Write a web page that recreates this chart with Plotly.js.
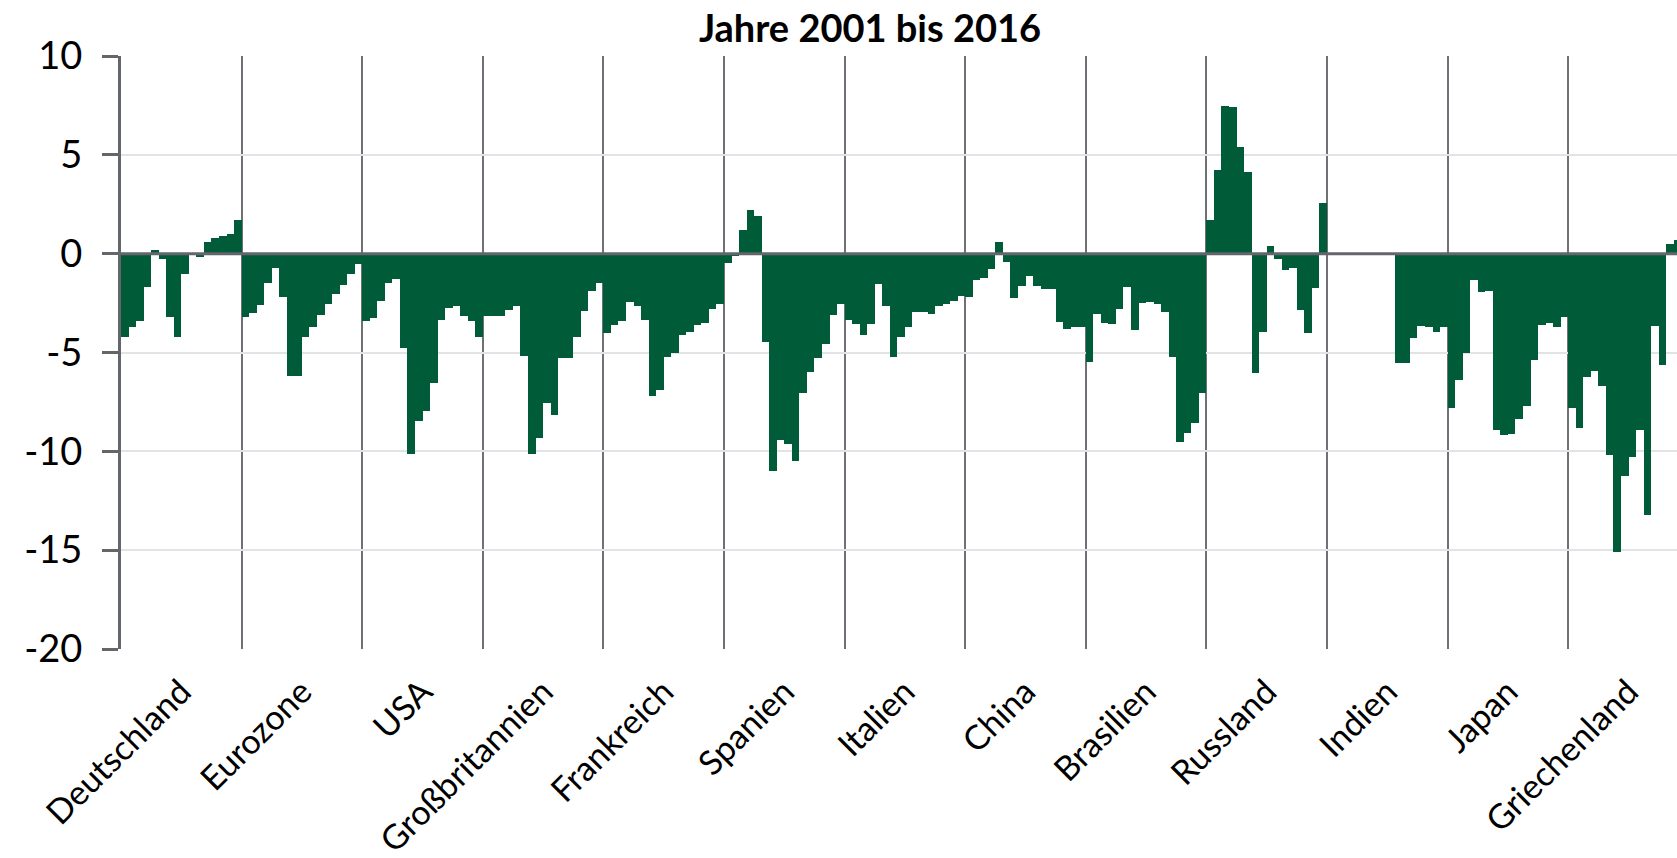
<!DOCTYPE html>
<html>
<head>
<meta charset="utf-8">
<script src="https://cdn.plot.ly/plotly-3.0.1.min.js"></script>
<style>
  html, body { margin: 0; padding: 0; background: #ffffff; }
  #chart { width: 1677px; height: 858px; }
</style>
</head>
<body>
<div id="chart"></div>
<script>
// ---- Data ----
const years = [2001, 2002, 2003, 2004, 2005, 2006, 2007, 2008, 2009, 2010, 2011, 2012, 2013, 2014, 2015, 2016];

const countries = ["Deutschland", "Eurozone", "USA", "Großbritannien", "Frankreich", "Spanien",
                   "Italien", "China", "Brasilien", "Russland", "Indien", "Japan", "Griechenland"];

const deutschland   = [-4.2, -3.7, -3.4, -1.7, 0.2, -0.25, -3.2, -4.2, -1.05, 0.0, -0.15, 0.6, 0.8, 0.9, 1.0, 1.7];
const eurozone      = [-3.2, -3.0, -2.6, -1.5, -0.75, -2.2, -6.2, -6.2, -4.2, -3.7, -3.1, -2.55, -2.05, -1.6, -1.05, -0.5];
const usa           = [-3.4, -3.25, -2.4, -1.5, -1.3, -4.75, -10.15, -8.45, -7.95, -6.55, -3.35, -2.75, -2.65, -3.15, -3.4, -4.2];
const grossbritannien = [-3.15, -3.15, -3.15, -2.85, -2.65, -5.2, -10.15, -9.35, -7.55, -8.15, -5.3, -5.3, -4.2, -2.9, -1.9, -1.5];
const frankreich    = [-4.0, -3.6, -3.4, -2.45, -2.65, -3.35, -7.2, -6.9, -5.25, -5.05, -4.1, -3.95, -3.6, -3.5, -2.8, -2.55];
const spanien       = [-0.45, -0.1, 1.2, 2.2, 1.9, -4.45, -11.0, -9.45, -9.65, -10.5, -7.05, -6.0, -5.3, -4.55, -3.1, -2.55];
const italien       = [-3.35, -3.55, -4.1, -3.55, -1.55, -2.65, -5.25, -4.2, -3.7, -2.95, -2.95, -3.05, -2.65, -2.55, -2.4, -2.15];
const china         = [-2.2, -1.35, -1.25, -0.8, 0.6, -0.4, -2.25, -1.65, -1.15, -1.65, -1.8, -1.8, -3.45, -3.8, -3.7, -3.7];
const brasilien     = [-5.5, -3.05, -3.5, -3.55, -2.8, -1.7, -3.85, -2.5, -2.45, -2.55, -2.95, -5.25, -9.55, -9.05, -8.55, -7.05];
const russland      = [1.7, 4.25, 7.45, 7.4, 5.4, 4.15, -6.05, -3.95, 0.4, -0.25, -0.85, -0.75, -2.85, -4.0, -1.75, 2.55];
const indien        = [null, null, null, null, null, null, null, null, null, -5.55, -5.55, -4.25, -3.65, -3.7, -3.95, -3.7];
const japan         = [-7.8, -6.4, -5.05, -1.35, -1.95, -1.9, -8.9, -9.15, -9.1, -8.35, -7.7, -5.4, -3.6, -3.5, -3.7, -3.2];
const griechenland  = [-7.8, -8.8, -6.25, -5.95, -6.7, -10.2, -15.1, -11.25, -10.3, -8.9, -13.2, -3.65, -5.65, 0.5, 0.7, null];

const seriesByCountry = [deutschland, eurozone, usa, grossbritannien, frankreich, spanien,
                         italien, china, brasilien, russland, indien, japan, griechenland];

const yTickVals = [10, 5, 0, -5, -10, -15, -20];
const yTickText = ["10", "5", "0", "-5", "-10", "-15", "-20"];

const chartTitle = "Jahre 2001 bis 2016";

// ---- Build trace ----
const n = years.length;
const xs = [], ys = [], hover = [];
seriesByCountry.forEach((vals, gi) => {
  vals.forEach((v, yi) => {
    xs.push(gi * n + yi);
    ys.push(v);
    hover.push(countries[gi] + " " + years[yi]);
  });
});

const groupCenters = countries.map((c, gi) => gi * n + (n - 1) / 2);
const groupBounds = countries.slice(1).map((c, gi) => (gi + 1) * n - 0.5);

const W = 1677, H = 858;
const plotLeft = 121, plotTop = 55.6, plotBottom = 649;
const barPx = 120.6 / n;
const xEnd = -0.5 + (W - plotLeft) / barPx;

const trace = {
  type: "bar",
  x: xs,
  y: ys,
  text: hover,
  hovertemplate: "%{text}: %{y}<extra></extra>",
  textposition: "none",
  marker: { color: "#005C38", line: { width: 0 } }
};

const axisGray = "#63666b";

const layout = {
  width: W,
  height: H,
  paper_bgcolor: "#ffffff",
  plot_bgcolor: "#ffffff",
  margin: { l: plotLeft, r: 0, t: plotTop, b: H - plotBottom, pad: 0 },
  bargap: 0,
  showlegend: false,
  font: { family: "Lato, 'Open Sans', sans-serif", color: "#000000" },
  title: {
    text: chartTitle,
    font: { family: "Lato, sans-serif", size: 38, color: "#000000", weight: "bold" },
    xref: "paper",
    x: (870 - plotLeft) / (W - plotLeft),
    xanchor: "center",
    yref: "container",
    y: 1 - 29 / H,
    yanchor: "middle"
  },
  xaxis: {
    range: [-0.5, xEnd],
    tickmode: "array",
    tickvals: groupCenters,
    ticktext: countries,
    tickangle: -45,
    ticks: "",
    showgrid: false,
    zeroline: false,
    showline: false,
    tickfont: { family: "Lato, sans-serif", size: 34, color: "#000000" },
    ticklabelstandoff: 15,
    minor: {
      tickmode: "array",
      tickvals: groupBounds,
      showgrid: true,
      gridcolor: "#6e7176",
      gridwidth: 2,
      ticks: ""
    },
    fixedrange: true
  },
  yaxis: {
    range: [-20, 10],
    tickmode: "array",
    tickvals: yTickVals,
    ticktext: yTickText,
    showgrid: true,
    gridcolor: "#e1e3e7",
    gridwidth: 2,
    zeroline: false,
    showline: true,
    linecolor: axisGray,
    linewidth: 3,
    ticks: "outside",
    ticklen: 16,
    tickwidth: 3,
    tickcolor: axisGray,
    tickfont: { family: "Lato, sans-serif", size: 38, color: "#000000" },
    ticklabelstandoff: 12,
    fixedrange: true
  },
  shapes: [
    {
      type: "line", layer: "above",
      xref: "paper", x0: 0, x1: 1,
      yref: "y", y0: 0, y1: 0,
      line: { color: axisGray, width: 3 }
    }
  ]
};

Plotly.newPlot("chart", [trace], layout, { staticPlot: true, displayModeBar: false });
</script>
</body>
</html>
